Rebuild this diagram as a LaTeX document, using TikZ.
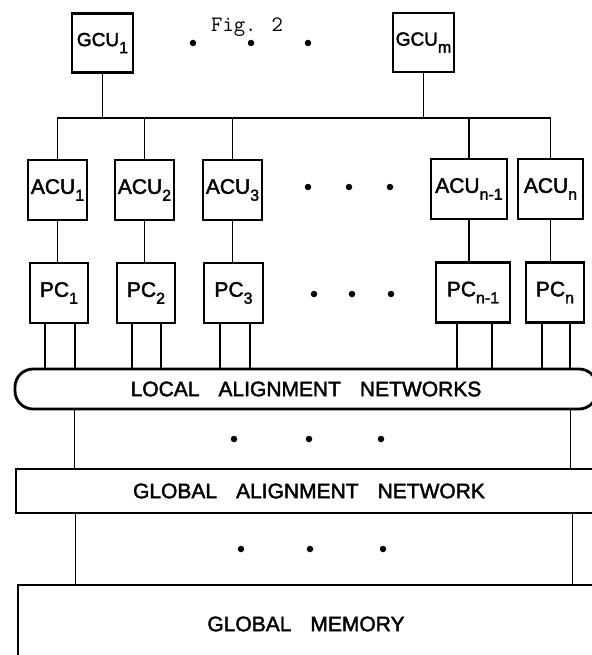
\documentclass[tikz,border=0pt]{standalone}
\usepackage{fontspec}
\newfontfamily\lettering[FakeBold=2]{Liberation Sans}
\usetikzlibrary{calc}
% unit label with a lowered index
\newcommand\unitlabel[3][21]{{\lettering\fontsize{#1}{#1}\selectfont #2\raisebox{-7pt}{\fontsize{16}{16}\selectfont #3}}}
% wide gap between lettered words
\newcommand\wgap{\hspace{19pt}}

\begin{document}
\begin{tikzpicture}[x=1pt,y=-1pt,
  unit/.style={draw, line width=2.8pt, inner sep=0pt, minimum height=59pt},
  net/.style={draw, line width=2.8pt, inner sep=0pt, font=\lettering\fontsize{21}{21}\selectfont},
  wire/.style={line width=1.6pt},
  ellipsis/.style={circle, fill, inner sep=0pt, minimum size=6.5pt}]
\useasboundingbox (0,0) rectangle (591,655);

% global control units
\node[unit, minimum width=61pt] (gcu1) at (102.5,43) {\unitlabel[19]{GCU}{1}};
\node[unit, minimum width=61pt] (gcum) at (423.5,42.5) {\unitlabel[19]{GCU}{m}};
\node[anchor=base west, inner sep=0pt, font=\ttfamily\fontsize{22}{22}\selectfont] (fig) at (211,32) {Fig. 2};
\node[ellipsis] (gd1) at (193,43) {};
\node[ellipsis] (gd2) at (251,43) {};
\node[ellipsis] (gd3) at (308,43) {};

% array control units
\node[unit, minimum width=59pt, minimum height=60pt] (acu1) at (57.5,190) {\unitlabel{ACU}{1}};
\node[unit, minimum width=59pt, minimum height=60pt] (acu2) at (144.5,190) {\unitlabel{ACU}{2}};
\node[unit, minimum width=59pt, minimum height=60pt] (acu3) at (232.5,190) {\unitlabel{ACU}{3}};
\node[unit, minimum width=76pt, minimum height=60pt] (acun1) at (469,189) {\unitlabel{ACU}{n-1}};
\node[unit, minimum width=65pt, minimum height=60pt] (acun) at (550.5,189) {\unitlabel{ACU}{n}};
\node[ellipsis] (ad1) at (308,187) {};
\node[ellipsis] (ad2) at (349,187) {};
\node[ellipsis] (ad3) at (390,187) {};

% processor clusters
\node[unit, minimum width=58pt, minimum height=60pt] (pc1) at (59,293) {\unitlabel{PC}{1}};
\node[unit, minimum width=58pt, minimum height=60pt] (pc2) at (146,293) {\unitlabel{PC}{2}};
\node[unit, minimum width=59pt, minimum height=60pt] (pc3) at (233.5,293) {\unitlabel{PC}{3}};
\node[unit, minimum width=74pt, minimum height=60pt] (pcn1) at (473,292.5) {\unitlabel{PC}{n-1}};
\node[unit, minimum width=58pt, minimum height=60pt] (pcn) at (555,292.5) {\unitlabel{PC}{n}};
\node[ellipsis] (pd1) at (314,294) {};
\node[ellipsis] (pd2) at (352,294) {};
\node[ellipsis] (pd3) at (391,294) {};

% networks and memory
\node[net, rounded corners=18pt, minimum width=582pt, minimum height=40pt] (lan) at (306,389)
  {LOCAL\wgap ALIGNMENT\wgap NETWORKS};
\node[net, minimum width=586pt, minimum height=44pt] (gan) at (309,491)
  {GLOBAL\wgap ALIGNMENT\wgap NETWORK};
\node[net, minimum width=576pt, minimum height=78pt] (gm) at (306,624)
  {GLOBAL\wgap MEMORY};
\node[ellipsis] (nd1) at (234,439) {};
\node[ellipsis] (nd2) at (309,439) {};
\node[ellipsis] (nd3) at (381,439) {};
\node[ellipsis] (md1) at (241,549) {};
\node[ellipsis] (md2) at (310,549) {};
\node[ellipsis] (md3) at (383,549) {};

% control bus
\coordinate (bus) at (0,118);
\draw[wire] (acu1.north) |- (acun.north |- bus) -- (acun.north);
\draw[wire] (gcu1.south) -- (gcu1.south |- bus);
\draw[wire] (gcum.south) -- (gcum.south |- bus);
\foreach \u in {acu2,acu3,acun1}
  \draw[wire] (\u.north) -- (\u.north |- bus);

% control unit to processor cluster
\foreach \a/\p in {acu1/pc1,acu2/pc2,acu3/pc3,acun1/pcn1,acun/pcn}
  \draw[wire] (\a.south) -- (\a.south |- \p.north);

% processor cluster ports into the local networks
\foreach \p/\l/\r in {pc1/-14/16,pc2/-14/15,pc3/-13.5/16.5,pcn1/-16/19,pcn/-13/15}{
  \draw[wire] ([xshift=\l pt]\p.south) -- ([xshift=\l pt]\p.south |- lan.north);
  \draw[wire] ([xshift=\r pt]\p.south) -- ([xshift=\r pt]\p.south |- lan.north);
}

% local networks to global network to memory
\draw[wire] ($(lan.south west)+(61,0)$) -- ($(gan.north west)+(60,0)$);
\draw[wire] ($(lan.south west)+(557,0)$) -- ($(gan.north west)+(556,0)$);
\draw[wire] ($(gan.south west)+(61,0)$) -- ($(gm.north west)+(59,0)$);
\draw[wire] ($(gan.south west)+(558,0)$) -- ($(gm.north west)+(556,0)$);
\end{tikzpicture}
\end{document}
